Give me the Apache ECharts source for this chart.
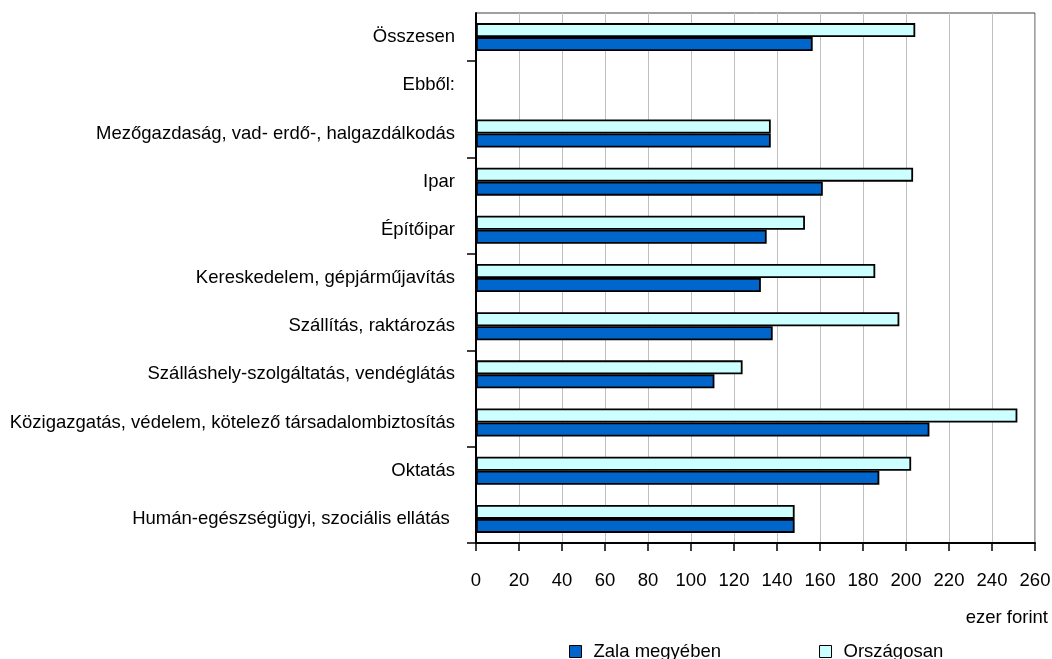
<!DOCTYPE html>
<html>
<head>
<meta charset="utf-8">
<script src="https://cdn.jsdelivr.net/npm/echarts@6/dist/echarts.min.js"></script>
<style>
html,body{margin:0;padding:0;background:#fff;}
#chart{width:1052px;height:659px;}
</style>
</head>
<body>
<div id="chart"></div>
<script>
const categories = [
  "Összesen",
  "Ebből:",
  "Mezőgazdaság, vad- erdő-, halgazdálkodás",
  "Ipar",
  "Építőipar",
  "Kereskedelem, gépjárműjavítás",
  "Szállítás, raktározás",
  "Szálláshely-szolgáltatás, vendéglátás",
  "Közigazgatás, védelem, kötelező társadalombiztosítás",
  "Oktatás",
  "Humán-egészségügyi, szociális ellátás "
];
const zalaValues = [156.6, null, 137.1, 161.3, 135.2, 132.5, 138.0, 110.9, 210.9, 187.6, 148.2];
const orszagValues = [204.3, null, 137.1, 203.3, 153.0, 185.7, 196.9, 124.0, 251.8, 202.4, 148.2];
const seriesNames = ["Zala megyében", "Országosan"];
const unitLabel = "ezer forint";

const FONT = "'Liberation Sans', Arial, sans-serif";
const FS = 18.5;
const chart = echarts.init(document.getElementById('chart'), null, {renderer: 'canvas'});
chart.setOption({
  backgroundColor: '#ffffff',
  animation: false,
  textStyle: {fontFamily: FONT},
  grid: {left: 476, right: 17, top: 13, bottom: 116, outerBoundsMode: 'none', containLabel: false, show: true, borderColor: '#404040', borderWidth: 1, backgroundColor: 'transparent'},
  legend: {
    data: seriesNames,
    left: 569, top: 642, padding: 0,
    itemWidth: 12, itemHeight: 12, itemGap: 98,
    icon: 'rect',
    textStyle: {fontSize: FS, color: '#000', fontFamily: FONT, padding: [0, 0, 0, 7]},
    itemStyle: {borderColor: '#000', borderWidth: 1}
  },
  xAxis: {
    type: 'value', min: 0, max: 260, interval: 20,
    axisLine: {show: true, lineStyle: {color: '#000', width: 2}},
    axisTick: {show: true, length: 8, lineStyle: {color: '#000', width: 1.5}},
    axisLabel: {color: '#000', fontSize: FS, margin: 28, fontFamily: FONT},
    splitLine: {show: true, lineStyle: {color: '#c0c0c0', width: 1}}
  },
  yAxis: {
    type: 'category', inverse: true, data: categories,
    axisLine: {show: true, lineStyle: {color: '#000', width: 2}},
    axisTick: {show: true, length: 9, interval: function (i) { return i % 2 === 1; }, lineStyle: {color: '#000', width: 1.5}},
    axisLabel: {interval: 0, color: '#000', fontSize: FS, margin: 21, fontFamily: FONT},
    splitLine: {show: false}
  },
  graphic: [{
    type: 'text', right: 4, top: 608,
    style: {text: unitLabel, fill: '#000', fontSize: FS, fontFamily: FONT}
  }],
  series: [
    {
      name: seriesNames[1], type: 'bar', data: orszagValues,
      barWidth: 14, barGap: '0%',
      itemStyle: {color: '#CCFFFF', borderColor: '#000', borderWidth: 1.8}
    },
    {
      name: seriesNames[0], type: 'bar', data: zalaValues,
      barWidth: 14, barGap: '0%',
      itemStyle: {color: '#0066CC', borderColor: '#000', borderWidth: 1.8}
    }
  ]
});
</script>
</body>
</html>
